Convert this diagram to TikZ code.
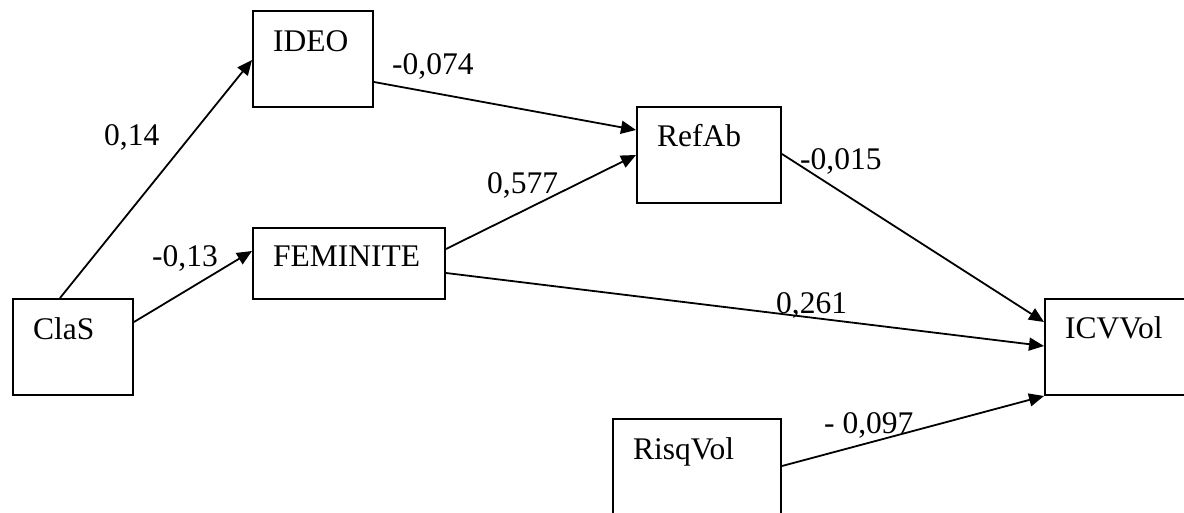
\documentclass[tikz,border=0pt]{standalone}
\usepackage{fontspec}
\setmainfont{Liberation Serif}
\usetikzlibrary{arrows.meta}
\tikzset{
  box/.style={draw, line width=2pt, rectangle, inner sep=0pt, anchor=north west},
  txt/.style={anchor=base west, inner sep=0pt, font=\fontsize{31.5}{37}\selectfont},
  path/.style={line width=1.8pt, -{Triangle[length=15pt,width=13pt]}}
}
\begin{document}
\begin{tikzpicture}[x=1pt,y=-1pt]
\useasboundingbox (0,0) rectangle (1184,513);
% boxes
\node[box, minimum width=120pt, minimum height=96pt] (ideo) at (252,10) {};
\node[box, minimum width=192pt, minimum height=71pt] (fem) at (252,227) {};
\node[box, minimum width=120pt, minimum height=96pt] (clas) at (12,298) {};
\node[box, minimum width=144pt, minimum height=96pt] (refab) at (636,106) {};
\node[box, minimum width=160pt, minimum height=96pt] (icv) at (1044,298) {};
\node[box, minimum width=168pt, minimum height=120pt] (risq) at (612,418) {};
% box texts
\node[txt] (ideoT) at (273,52) {IDEO};
\node[txt] (femT) at (273,267) {FEMINITE};
\node[txt] (clasT) at (33,339) {ClaS};
\node[txt] (refabT) at (657,147) {RefAb};
\node[txt] (icvT) at (1065,338) {ICVVol};
\node[txt] (risqT) at (633,459) {RisqVol};
% connectors
\draw[path] ([xshift=48pt]clas.north west) -- ([yshift=-50pt]ideo.north west);
\draw[path] ([yshift=-24pt]clas.north east) -- ([yshift=-24pt]fem.north west);
\draw[path] ([yshift=-72pt]ideo.north east) -- ([yshift=-24pt]refab.north west);
\draw[path] ([yshift=-22pt]fem.north east) -- ([yshift=-49pt]refab.north west);
\draw[path] ([yshift=-48pt]refab.north east) -- ([yshift=-24pt]icv.north west);
\draw[path] ([yshift=-46pt]fem.north east) -- ([yshift=-48pt]icv.north west);
\draw[path] ([yshift=-48pt]risq.north east) -- (icv.south west);
% labels
\node[txt] (l1) at (104,146) {0,14};
\node[txt] (l2) at (152,266) {-0,13};
\node[txt] (l3) at (392,75) {-0,074};
\node[txt] (l4) at (487,194) {0,577};
\node[txt] (l5) at (800,170) {-0,015};
\node[txt] (l6) at (776,313) {0,261};
\node[txt] (l7) at (824,433) {- 0,097};
\end{tikzpicture}
\end{document}
